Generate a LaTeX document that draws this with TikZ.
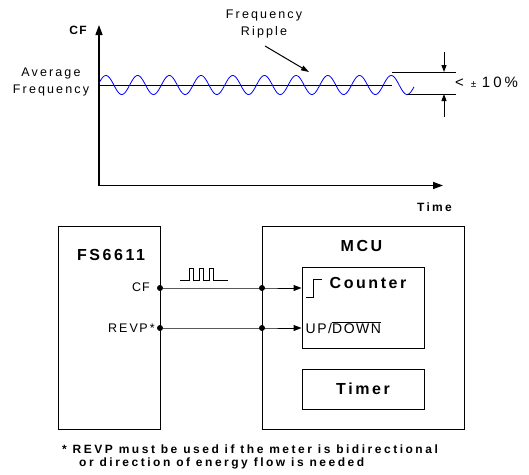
\documentclass[tikz,border=0pt]{standalone}
\usepackage{fontspec}
\setmainfont{Liberation Sans}
\usetikzlibrary{arrows.meta}
\newcommand{\rfont}[2]{\fontsize{#1}{17}\selectfont\addfontfeature{LetterSpace=#2}}
\newcommand{\bfont}[2]{\bfseries\fontsize{#1}{17}\selectfont\addfontfeature{LetterSpace=#2}}
\begin{document}
\begin{tikzpicture}[x=1pt,y=-1pt,
  axis/.style={line width=1.3pt,-{Triangle[length=10pt,width=7pt]}},
  thin/.style={line width=1pt},
  box/.style={draw,line width=1pt,rectangle,inner sep=0pt},
  rtext/.style={inner sep=0pt,font=\rfont{12.5}{17}},
  btext/.style={inner sep=0pt,font=\bfont{12}{19}},
  big/.style={inner sep=0pt,font=\bfont{16}{16}},
  note/.style={inner sep=0pt,anchor=west,font=\bfont{12}{21}},
  dot/.style={circle,fill,inner sep=0pt,minimum size=6pt},
  sig/.style={line width=1pt,-{Triangle[length=8pt,width=6pt]}},
  tick/.style={line width=1pt,-{Triangle[length=7pt,width=5pt]}},
  wave/.style={blue,line width=0.8pt}
]
\useasboundingbox (0,0) rectangle (529,474);

% ---- graph ----
\coordinate (org) at (99,185.5);
\coordinate (ytop) at (99,25);
\coordinate (xend) at (443,185.5);
\draw[axis] (org) -- (ytop);
\draw[axis] (org) -- (xend);
\node[btext] (cf) at (78,30) {C\kern1.5pt F};
\node[btext] (time) at (434.5,207) {Time};
\node[rtext,align=center] (avg) at (51,82) {Average\\Frequency};

\coordinate (avgA) at (99,85);
\coordinate (avgB) at (392,85);
\draw[thin] (avgA) -- (avgB);
\draw[wave] plot[domain=99:414,samples=400] (\x,{85-9.5*sin(11.3565*(\x-98))});

\coordinate (hiA) at (392,72);
\coordinate (hiB) at (456,72);
\coordinate (loA) at (407,94);
\coordinate (loB) at (456,94);
\draw[thin] (hiA) -- (hiB);
\draw[thin] (loA) -- (loB);
\coordinate (t1) at (444,52);
\coordinate (t1e) at (444,72);
\coordinate (t2) at (444,117);
\coordinate (t2e) at (444,94);
\draw[tick] (t1) -- (t1e);
\draw[tick] (t2) -- (t2e);
\node[inner sep=0pt,anchor=west] (pct) at (455,82.5)
  {\rfont{15}{20}<\hspace{7pt}{\fontsize{10}{12}\selectfont\raisebox{0.5pt}{±}}\hspace{5.5pt}10\%};

\node[rtext,align=center] (rip) at (264,24) {Frequency\\Ripple};
\coordinate (ripA) at (265,46);
\coordinate (ripB) at (309,72);
\draw[thin,-{Triangle[length=8pt,width=5pt]}] (ripA) -- (ripB);

% ---- block diagram ----
\node[box,minimum width=102pt,minimum height=203pt] (fs) at (109,327.5) {};
\node[box,minimum width=202pt,minimum height=203pt] (mcu) at (363,327.5) {};
\node[box,minimum width=122pt,minimum height=81pt] (cnt) at (363,307.5) {};
\node[box,minimum width=122pt,minimum height=40pt,big] (tmr) at (363,389) {Timer};

\node[big] (fsl) at (111,255) {FS6611};
\node[big] (mcul) at (361.5,246) {MCU};
\node[big] (cntl) at (368,283) {Counter};
\node[inner sep=0pt,anchor=west,font=\rfont{14}{11}] (ud) at (305.5,328) {UP/$\overline{\mbox{DOWN}}$};

\node[rtext,anchor=east] (cfp) at (150,287.5) {C\kern1pt F};
\node[rtext,anchor=east] (rvp) at (155,328) {REV\kern1.5pt P*};

\node[dot] (d1) at (160,288) {};
\node[dot] (d2) at (262,288) {};
\node[dot] (d3) at (160,328) {};
\node[dot] (d4) at (262,328) {};
\draw[sig] (d1) -- (d2.center) -- (cnt.west |- d2);
\draw[sig] (d3) -- (d4.center) -- (cnt.west |- d4);

% step symbol
\coordinate (s1) at (306,297);
\coordinate (s2) at (313,297);
\coordinate (s3) at (313,279);
\coordinate (s4) at (322,279);
\draw[thin] (s1) -- (s2) -- (s3) -- (s4);

% pulse train
\coordinate (p0) at (180,280);
\draw[thin] (p0) -- (189,280) -- ++(0,-12) -- ++(4.5,0) -- ++(0,12) -- ++(5.5,0) -- ++(0,-12)
  -- ++(4.5,0) -- ++(0,12) -- ++(5.5,0) -- ++(0,-12) -- ++(4.5,0) -- ++(0,12) -- (228,280);

% footnote
\node[note] (n1) at (62,449) {* REVP must be used if the meter is bidirectional};
\node[note] (n2) at (79,463) {or direction of energy flow is needed};
\end{tikzpicture}
\end{document}
